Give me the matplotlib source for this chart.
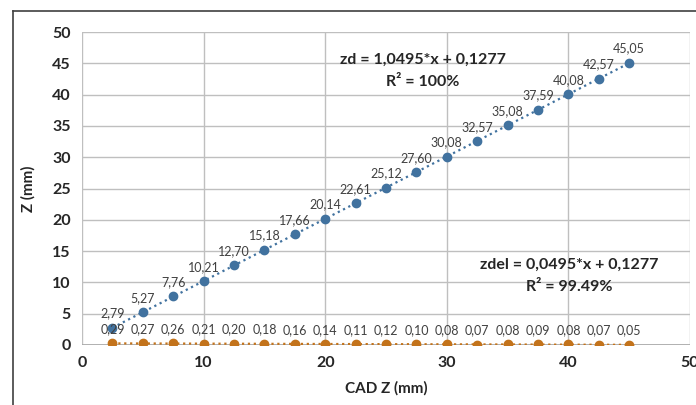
import matplotlib
matplotlib.use("Agg")
import matplotlib.pyplot as plt
import numpy as np
from matplotlib.lines import Line2D

plt.rcParams["font.family"] = ["Lato", "DejaVu Sans"]

# CAD nominal heights (mm) and measured values
cad_z = [2.5, 5, 7.5, 10, 12.5, 15, 17.5, 20, 22.5, 25, 27.5, 30, 32.5, 35, 37.5, 40, 42.5, 45]
zd = [2.79, 5.27, 7.76, 10.21, 12.70, 15.18, 17.66, 20.14, 22.61, 25.12,
      27.60, 30.08, 32.57, 35.08, 37.59, 40.08, 42.57, 45.05]
zdel = [0.29, 0.27, 0.26, 0.21, 0.20, 0.18, 0.16, 0.14, 0.11, 0.12,
        0.10, 0.08, 0.07, 0.08, 0.09, 0.08, 0.07, 0.05]

BLUE = "#41729F"
ORANGE = "#C3731B"
GRID = "#BFBFBF"
LABEL = "#404040"
DARK = "#262626"

fig = plt.figure(figsize=(6.96, 4.05), dpi=100)
ax = fig.add_axes([82 / 696, 1 - 345 / 405, 608 / 696, 313 / 405])

x = np.array(cad_z)
for ys, col in ((zd, BLUE), (zdel, ORANGE)):
    ys = np.array(ys)
    k, b = np.polyfit(x, ys, 1)
    ax.plot([x[0], x[-1]], [k * x[0] + b, k * x[-1] + b], ls=":", lw=1.6, color=col, zorder=3)
    ax.plot(x, ys, "o", ms=6, color=col, zorder=4)
    for xi, yi in zip(x, ys):
        ax.annotate(f"{yi:.2f}".replace(".", ","), (xi, yi), xytext=(0, 6),
                    textcoords="offset points", ha="center", va="bottom",
                    fontsize=9, color=LABEL, zorder=5)

ax.set_xlim(0, 50)
ax.set_ylim(0, 50)
ax.set_xticks(range(0, 51, 10))
ax.set_yticks(range(0, 51, 5))
ax.grid(True, color=GRID, lw=1)
ax.set_axisbelow(True)
for s in ax.spines.values():
    s.set_visible(False)
ax.axhline(0, color="#A6A6A6", lw=1.2, zorder=2)
ax.tick_params(length=0, labelsize=11.5, labelcolor=DARK, pad=8)
for t in ax.get_xticklabels() + ax.get_yticklabels():
    t.set_fontweight("bold")

ax.set_xlabel("CAD Z (mm)", fontsize=11, fontweight="bold", color=DARK, labelpad=8)
ax.set_ylabel("Z (mm)", fontsize=11, fontweight="bold", color=DARK, labelpad=12)

eq = dict(ha="center", va="center", fontsize=11.5, fontweight="bold", color=DARK)
ax.text(28.0, 45.5, "zd = 1,0495*x + 0,1277", **eq)
ax.text(28.0, 42.0, "R² = 100%", **eq)
ax.text(40.1, 12.8, "zdel = 0,0495*x + 0,1277", **eq)
ax.text(40.1, 9.3, "R² = 99.49%", **eq)

# outer frame (left and top edges visible in the crop)
fig.add_artist(Line2D([13 / 696, 13 / 696], [0, 1 - 11 / 405], color="#404040", lw=1.2))
fig.add_artist(Line2D([13 / 696, 1], [1 - 11 / 405, 1 - 11 / 405], color="#404040", lw=1.2))

fig.savefig("out.png", dpi=100)
